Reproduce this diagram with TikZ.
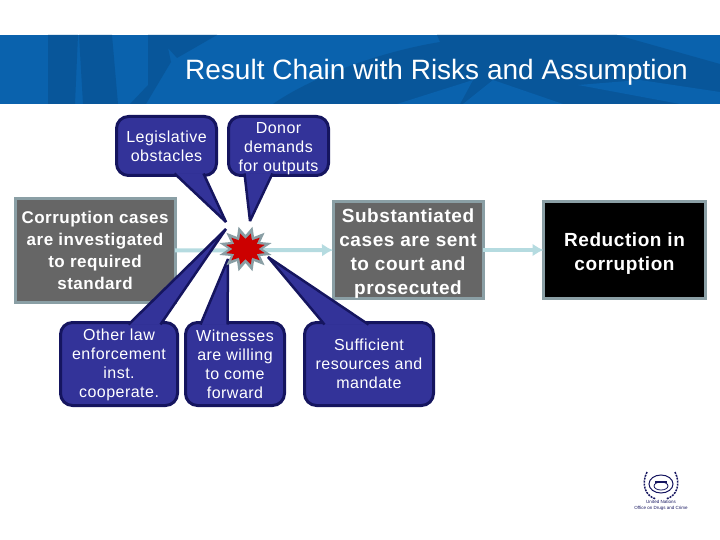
\documentclass[tikz,border=0pt]{standalone}
\usepackage{fontspec}
\setmainfont{Liberation Sans}
\newfontfamily\spaced[LetterSpace=3]{Liberation Sans}
\newfontfamily\spacedb[LetterSpace=3,BoldFont={Liberation Sans Bold}]{Liberation Sans}
\usetikzlibrary{arrows.meta,calc}
\definecolor{bannerblue}{HTML}{0A62AD}
\definecolor{bannerdark}{HTML}{08569A}
\definecolor{calloutfill}{HTML}{333399}
\definecolor{calloutline}{HTML}{15155F}
\definecolor{boxgrey}{HTML}{666666}
\definecolor{boxline}{HTML}{8A9FA5}
\definecolor{flow}{HTML}{B5DBE0}
\definecolor{burstred}{HTML}{CC0000}
\tikzset{
  x=1pt,y=-1pt,
  callout/.style={draw=calloutline,fill=calloutfill,line width=3pt,rounded corners=12pt,
    inner sep=0pt,outer sep=0pt,align=center,text=white,
    font=\spaced\fontsize{16}{19}\selectfont},
  tail/.style={draw=calloutline,fill=calloutfill,line width=2.5pt,line join=miter,miter limit=3},
  result/.style={draw=boxline,fill=boxgrey,line width=3pt,inner sep=0pt,outer sep=0pt,align=center,
    text=white,font=\spacedb\bfseries\fontsize{17}{22}\selectfont},
  bigresult/.style={result,font=\spacedb\bfseries\fontsize{19}{24}\selectfont},
  flowline/.style={draw=flow,line width=4pt,-{Latex[length=11pt,width=13pt]}},
  shade1/.style={fill=bannerdark,draw=none},
}
\begin{document}
\begin{tikzpicture}
\useasboundingbox (0,0) rectangle (720,540);
% banner
\fill[bannerblue] (0,35) rectangle (720,104);
\begin{scope}
\clip (0,35) rectangle (720,104);
\fill[shade1] (48,35) -- (78,35) -- (75,104) -- (48,104) -- cycle;
\fill[shade1] (79,35) -- (112,35) -- (118,104) -- (83,104) -- cycle;
\fill[shade1] (148,35) -- (217,35) -- (177,58) -- (168,48) -- (171,62) -- (146,104) -- (130,104) -- (148,85) -- cycle;
\fill[shade1] (273,104) .. controls (307,80) and (373,53) .. (440,42) -- (437,35) -- (617,35) -- (720,64) -- (720,104) -- cycle;
\fill[bannerblue] (397,104) -- (473,80) -- (460,104) -- cycle;
\fill[bannerblue] (493,80) -- (563,104) -- (463,104) -- cycle;
\fill[bannerblue] (578,85) -- (640,80) -- (720,92) -- (720,104) -- (680,104) -- cycle;
\end{scope}
\node[text=white,anchor=base west,inner sep=0pt,font=\fontsize{28}{30}\selectfont] (title) at (185,80) {Result Chain with Risks and Assumption};
% result boxes
\node[result,minimum width=160pt,minimum height=104pt] (cases) at (95,250.5) {Corruption cases\\are investigated\\to required\\standard};
\node[bigresult,minimum width=150pt,minimum height=96pt] (sent) at (408,250) {\rule{0pt}{20pt}Substantiated\\cases are sent\\to court and\\prosecuted};
\node[bigresult,fill=black,minimum width=162pt,minimum height=96pt] (reduction) at (624.5,250) {\rule{0pt}{20pt}Reduction in\\corruption};
\draw[flowline] (cases) -- (sent);
\draw[flowline] (sent) -- (reduction);
% callouts
\coordinate (tipa) at (226,222);
\coordinate (tipb) at (250,221);
\coordinate (tipc) at (226,229);
\coordinate (tipd) at (228,259);
\coordinate (tipe) at (268,257);
\node[callout,minimum width=100pt,minimum height=59pt] (legis) at (166.5,146) {Legislative\\obstacles};
\node[callout,minimum width=100pt,minimum height=59pt] (donor) at (278.5,146) {\rule{0pt}{16pt}Donor\\demands\\for outputs};
\node[callout,minimum width=117pt,minimum height=83pt] (law) at (119,364) {\rule{0pt}{14pt}Other law\\enforcement\\inst.\\cooperate.};
\node[callout,minimum width=99pt,minimum height=83pt] (witness) at (235,364) {Witnesses\\are willing\\to come\\forward};
\node[callout,minimum width=129pt,minimum height=83pt] (resources) at (369,364) {Sufficient\\resources  and\\mandate};
\draw[tail] ($(legis.south west)+(58,-2)$) -- (tipa) -- ($(legis.south west)+(87,-2)$);
\draw[tail] ($(donor.south west)+(16,-2)$) -- (tipb) -- ($(donor.south west)+(44,-2)$);
\draw[tail] ($(law.north west)+(68,2)$) -- (tipc) -- ($(law.north west)+(100,2)$);
\draw[tail] ($(witness.north west)+(15,2)$) -- (tipd) -- ($(witness.north west)+(42,2)$);
\draw[tail] ($(resources.north west)+(20,2)$) -- (tipe) -- ($(resources.north west)+(64,2)$);
% burst
\path[fill=boxline] plot[samples at={0,15,...,345}] ({245.5+(mod(\x,30)<1?27:17)*cos(\x+15)},{249+(mod(\x,30)<1?23:14)*sin(\x+15)}) -- cycle;
\path[fill=burstred] plot[samples at={0,15,...,345}] ({245.5+(mod(\x,30)<1?20:13)*cos(\x+15)},{249+(mod(\x,30)<1?16:10)*sin(\x+15)}) -- cycle;
% emblem
\begin{scope}[calloutline]
\draw[line width=1pt] (661,484) ellipse (12pt and 9pt);
\draw[line width=.8pt] (661,486) ellipse (7pt and 4pt);
\fill (655,481) rectangle (667,483);
\draw[line width=1.5pt,dash pattern=on 2pt off 1pt] (647,472) .. controls (641,484) and (645,496) .. (656,499);
\draw[line width=1.5pt,dash pattern=on 2pt off 1pt] (675,472) .. controls (681,484) and (677,496) .. (666,499);
\end{scope}
\node[text=calloutline,inner sep=0pt,align=center,font=\fontsize{4.5}{6}\selectfont] (unit) at (661,505) {United Nations\\Office on Drugs and Crime};
\end{tikzpicture}
\end{document}
